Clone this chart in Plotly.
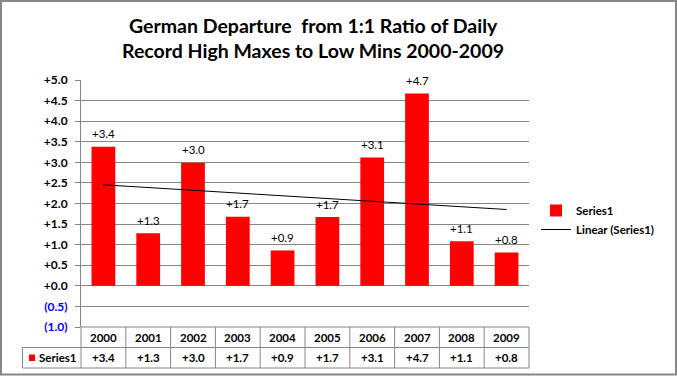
import numpy as np
import plotly.graph_objects as go

years = ["2000", "2001", "2002", "2003", "2004", "2005", "2006", "2007", "2008", "2009"]
values = [3.38, 1.28, 2.99, 1.68, 0.86, 1.67, 3.12, 4.67, 1.08, 0.81]
tick_vals = [5.0, 4.5, 4.0, 3.5, 3.0, 2.5, 2.0, 1.5, 1.0, 0.5, 0.0, -0.5, -1.0]
tick_text = ["+5.0", "+4.5", "+4.0", "+3.5", "+3.0", "+2.5", "+2.0", "+1.5", "+1.0", "+0.5", "+0.0",
             "<span style='color:#0000FF'>(0.5)</span>", "<span style='color:#0000FF'>(1.0)</span>"]
series_name = "Series1"
trend_name = "Linear (Series1)"
title_lines = ["German Departure  from 1:1 Ratio of Daily", "Record High Maxes to Low Mins 2000-2009"]

FONT = "Lato"
GRID = "#868686"
W_IMG, H_IMG = 677, 376
L, R, T, B = 81, 529, 80, 327
PW, PH = R - L, B - T

def px(x):
    return (x - L) / PW

def py(y):
    return (B - y) / PH

xs = list(range(len(years)))
coef = np.polyfit(xs, values, 1)
trend = np.polyval(coef, xs)
labels = [f"{v:+.1f}" for v in values]

fig = go.Figure()
fig.add_trace(go.Bar(
    x=xs, y=values, name=series_name, marker=dict(color="#FF0000", line=dict(width=0)),
    width=0.53,
))
fig.add_trace(go.Scatter(
    x=xs, y=trend, mode="lines", name=trend_name, line=dict(color="black", width=1),
))

shapes = []
ann = []
# data labels
for xv, v, lab in zip(xs, values, labels):
    ann.append(dict(x=xv, y=v, xref="x", yref="y", text=lab, showarrow=False, yshift=13,
                    font=dict(family=FONT, size=11.5, color="black"),
                    xanchor="center", yanchor="middle"))
# outer border
shapes.append(dict(type="rect", xref="paper", yref="paper", x0=px(1), x1=px(W_IMG - 1),
                   y0=py(H_IMG - 1.5), y1=py(1), line=dict(color="#868686", width=2), layer="below"))
# table
t_top, t_mid, t_bot, t_left = 327, 347.5, 368, 22.5
line_style = dict(color=GRID, width=1)
for i in range(len(years) + 1):
    shapes.append(dict(type="line", xref="paper", yref="paper", x0=i / len(years), x1=i / len(years),
                       y0=py(t_top), y1=py(t_bot), line=line_style))
shapes.append(dict(type="line", xref="paper", yref="paper", x0=px(t_left), x1=px(t_left),
                   y0=py(t_mid), y1=py(t_bot), line=line_style))
for yy, x0 in [(t_top, L), (t_mid, t_left), (t_bot, t_left)]:
    shapes.append(dict(type="line", xref="paper", yref="paper", x0=px(x0), x1=1,
                       y0=py(yy), y1=py(yy), line=line_style))
tfont = dict(family=FONT, size=11.5, color="black", weight="bold")
for i, (yr, lab) in enumerate(zip(years, labels)):
    cx = (i + 0.5) / len(years)
    ann.append(dict(x=cx, y=py((t_top + t_mid) / 2), xref="paper", yref="paper", text=yr,
                    showarrow=False, font=tfont, xanchor="center", yanchor="middle"))
    ann.append(dict(x=cx, y=py((t_mid + t_bot) / 2), xref="paper", yref="paper", text=lab,
                    showarrow=False, font=tfont, xanchor="center", yanchor="middle"))
shapes.append(dict(type="rect", xref="paper", yref="paper", x0=px(29), x1=px(35),
                   y0=py(361), y1=py(354.5), fillcolor="#FF0000", line=dict(width=0)))
ann.append(dict(x=px(37), y=py((t_mid + t_bot) / 2), xref="paper", yref="paper", text=series_name,
                showarrow=False, font=tfont, xanchor="left", yanchor="middle"))
# title
for line, yy in zip(title_lines, [25, 51]):
    ann.append(dict(x=px(313), y=py(yy), xref="paper", yref="paper", text=line,
                    showarrow=False, font=dict(family=FONT, size=19.5, color="black", weight="bold"),
                    xanchor="center", yanchor="middle"))

fig.update_layout(
    width=W_IMG, height=H_IMG,
    margin=dict(l=L, r=W_IMG - R, t=T, b=H_IMG - B, pad=0),
    paper_bgcolor="white", plot_bgcolor="white",
    showlegend=True,
    legend=dict(x=px(536), y=py(196), xanchor="left", yanchor="top",
                font=dict(family=FONT, size=11.5, color="black", weight="bold"),
                bgcolor="rgba(0,0,0,0)", itemwidth=30),
    bargap=0.47,
    shapes=shapes, annotations=ann,
    font=dict(family=FONT),
)
fig.update_xaxes(range=[-0.5, len(years) - 0.5], showticklabels=False, showgrid=False,
                 zeroline=False, showline=False, ticks="")
fig.update_yaxes(range=[-1.0, 5.0], tickvals=tick_vals, ticktext=tick_text, showgrid=True,
                 gridcolor=GRID, gridwidth=1, zeroline=False, showline=True, linecolor=GRID,
                 linewidth=1, ticks="outside", ticklen=5, tickcolor=GRID,
                 tickfont=dict(family=FONT, size=12, color="black", weight="bold"), ticklabelstandoff=5)

fig.write_html("out.html", config={"displayModeBar": False},
               post_script="document.body.style.margin='0px';")
